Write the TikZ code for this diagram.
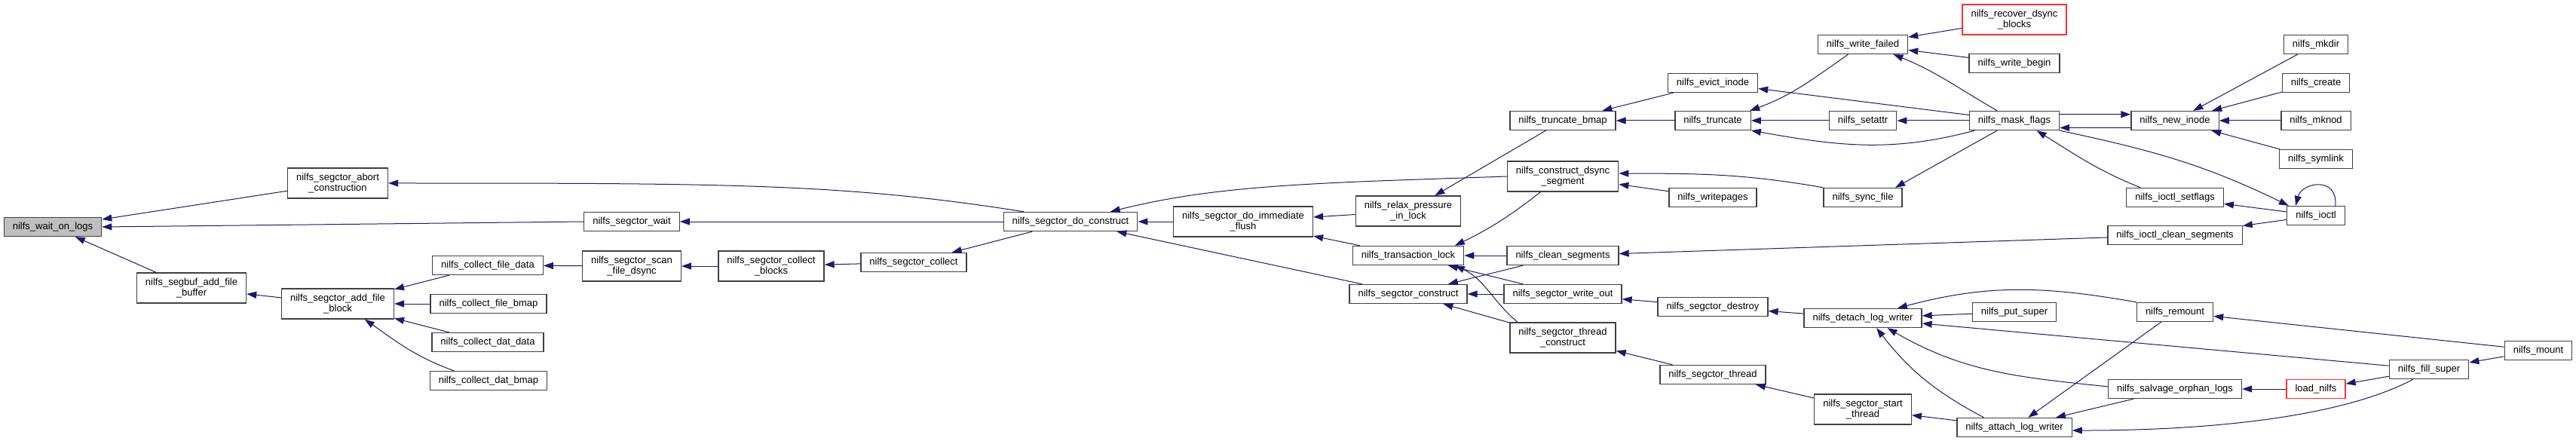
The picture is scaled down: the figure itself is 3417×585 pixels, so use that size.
\documentclass[tikz,border=0pt]{standalone}
\usepackage{fontspec}
\setmainfont{Liberation Sans}
\usetikzlibrary{arrows.meta}
\definecolor{cgEdge}{HTML}{191970}
\definecolor{cgLine}{HTML}{404040}
\definecolor{cgRoot}{HTML}{BFBFBF}
\definecolor{cgExt}{HTML}{FF3030}
\tikzset{
  fnnode/.style={
    draw=cgLine, line width=1.3pt, fill=white, align=center,
    font=\fontsize{13}{14}\selectfont, inner xsep=11.5pt, inner ysep=0pt,
    minimum height=25pt
  },
  fnroot/.style={fnnode, fill=cgRoot},
  fnext/.style={fnnode, draw=cgExt},
  twoline/.style={minimum height=40pt},
  call/.style={{Triangle[length=13pt, width=9pt]}-, cgEdge, line width=1pt}
}

\begin{document}
\begin{tikzpicture}[x=1pt, y=1pt]
  \useasboundingbox (0,0) rectangle (3417,-585);
  \node[fnroot] (wait) at (70,-301) {nilfs\_wait\_on\_logs};
  \node[fnnode, twoline] (abort) at (448,-243) {nilfs\_segctor\_abort\\\_construction};
  \node[fnnode, twoline] (segbuf) at (254,-382) {nilfs\_segbuf\_add\_file\\\_buffer};
  \node[fnnode, twoline] (addblock) at (448,-403) {nilfs\_segctor\_add\_file\\\_block};
  \node[fnnode] (cfiledata) at (647,-352) {nilfs\_collect\_file\_data};
  \node[fnnode] (cfilebmap) at (648,-403) {nilfs\_collect\_file\_bmap};
  \node[fnnode] (cdatdata) at (647,-454) {nilfs\_collect\_dat\_data};
  \node[fnnode] (cdatbmap) at (648,-505) {nilfs\_collect\_dat\_bmap};
  \node[fnnode] (scwait) at (838,-294) {nilfs\_segctor\_wait};
  \node[fnnode, twoline] (scandsync) at (838,-353) {nilfs\_segctor\_scan\\\_file\_dsync};
  \node[fnnode, twoline] (collblocks) at (1023,-353) {nilfs\_segctor\_collect\\\_blocks};
  \node[fnnode] (sccollect) at (1212,-348) {nilfs\_segctor\_collect};
  \node[fnnode] (doconstruct) at (1420,-294) {nilfs\_segctor\_do\_construct};
  \node[fnnode, twoline] (immflush) at (1649,-294) {nilfs\_segctor\_do\_immediate\\\_flush};
  \node[fnnode, twoline] (relax) at (1868,-280) {nilfs\_relax\_pressure\\\_in\_lock};
  \node[fnnode] (translock) at (1868,-339) {nilfs\_transaction\_lock};
  \node[fnnode] (scconstruct) at (1868,-390) {nilfs\_segctor\_construct};
  \node[fnnode] (truncbmap) at (2073,-160) {nilfs\_truncate\_bmap};
  \node[fnnode, twoline] (dsyncseg) at (2073,-234) {nilfs\_construct\_dsync\\\_segment};
  \node[fnnode] (cleanseg) at (2073,-339) {nilfs\_clean\_segments};
  \node[fnnode] (writeout) at (2073,-390) {nilfs\_segctor\_write\_out};
  \node[fnnode, twoline] (threadcons) at (2073,-448) {nilfs\_segctor\_thread\\\_construct};
  \node[fnnode] (evict) at (2272,-110) {nilfs\_evict\_inode};
  \node[fnnode] (truncate) at (2272,-160) {nilfs\_truncate};
  \node[fnnode] (writepages) at (2272,-262) {nilfs\_writepages};
  \node[fnnode] (destroy) at (2272,-407) {nilfs\_segctor\_destroy};
  \node[fnnode] (scthread) at (2272,-497) {nilfs\_segctor\_thread};
  \node[fnnode] (writefailed) at (2471,-59) {nilfs\_write\_failed};
  \node[fnnode] (setattr) at (2471,-160) {nilfs\_setattr};
  \node[fnnode] (syncfile) at (2471,-262) {nilfs\_sync\_file};
  \node[fnnode] (detach) at (2471,-422) {nilfs\_detach\_log\_writer};
  \node[fnnode, twoline] (startthread) at (2471,-543) {nilfs\_segctor\_start\\\_thread};
  \node[fnext, twoline] (recover) at (2672,-26) {nilfs\_recover\_dsync\\\_blocks};
  \node[fnnode] (writebegin) at (2672,-84) {nilfs\_write\_begin};
  \node[fnnode] (maskflags) at (2672,-160) {nilfs\_mask\_flags};
  \node[fnnode] (putsuper) at (2672,-414) {nilfs\_put\_super};
  \node[fnnode] (attach) at (2672,-567) {nilfs\_attach\_log\_writer};
  \node[fnnode] (newinode) at (2885,-160) {nilfs\_new\_inode};
  \node[fnnode] (setflags) at (2885,-262) {nilfs\_ioctl\_setflags};
  \node[fnnode] (icleanseg) at (2885,-312) {nilfs\_ioctl\_clean\_segments};
  \node[fnnode] (remount) at (2885,-414) {nilfs\_remount};
  \node[fnnode] (salvage) at (2885,-516) {nilfs\_salvage\_orphan\_logs};
  \node[fnnode] (mkdir) at (3072,-59) {nilfs\_mkdir};
  \node[fnnode] (create) at (3072,-110) {nilfs\_create};
  \node[fnnode] (mknod) at (3072,-160) {nilfs\_mknod};
  \node[fnnode] (symlink) at (3072,-211) {nilfs\_symlink};
  \node[fnnode] (ioctl) at (3072,-286) {nilfs\_ioctl};
  \node[fnext] (loadnilfs) at (3072,-516) {load\_nilfs};
  \node[fnnode] (fillsuper) at (3222,-490) {nilfs\_fill\_super};
  \node[fnnode] (mount) at (3367,-465) {nilfs\_mount};

  \draw[call] (wait) -- (abort);
  \draw[call] (wait.east) -- (scwait.west);
  \draw[call] (wait) -- (segbuf);
  \draw[call] (segbuf) -- (addblock);
  \draw[call] (addblock) -- (cfiledata);
  \draw[call] (addblock) -- (cfilebmap);
  \draw[call] (addblock) -- (cdatdata);
  \draw[call] (addblock.-30) to[out=-35, in=160] (cdatbmap.164);
  \draw[call] (cfiledata) -- (scandsync);
  \draw[call] (scandsync) -- (collblocks);
  \draw[call] (collblocks) -- (sccollect);
  \draw[call] (abort.east) .. controls +(0:450) and +(171:240) .. (doconstruct.168);
  \draw[call] (scwait) -- (doconstruct);
  \draw[call] (sccollect) -- (doconstruct);
  \draw[call] (doconstruct) -- (immflush);
  \draw[call] (doconstruct.14) .. controls +(14:150) and +(182:250) .. (dsyncseg.west);
  \draw[call] (doconstruct) -- (scconstruct);
  \draw[call] (immflush) -- (relax);
  \draw[call] (immflush) -- (translock);
  \draw[call] (relax) -- (truncbmap);
  \draw[call] (truncbmap) -- (evict);
  \draw[call] (truncbmap) -- (truncate);
  \draw[call] (translock.12) to[bend right=6] (dsyncseg.215);
  \draw[call] (translock) -- (cleanseg);
  \draw[call] (translock) -- (writeout);
  \draw[call] (translock.-12) to[out=-25, in=140] (threadcons.161);
  \draw[call] (scconstruct) -- (cleanseg);
  \draw[call] (scconstruct) -- (writeout);
  \draw[call] (scconstruct) -- (threadcons);
  \draw[call] (dsyncseg) -- (writepages);
  \draw[call] (dsyncseg.3) to[out=0, in=170] (syncfile.north west);
  \draw[call] (cleanseg) -- (icleanseg);
  \draw[call] (writeout) -- (destroy);
  \draw[call] (threadcons) -- (scthread);
  \draw[call] (evict) -- (maskflags);
  \draw[call] (truncate.15) to[out=20, in=215] (writefailed.214);
  \draw[call] (truncate) -- (setattr);
  \draw[call] (truncate.south east) to[out=-10, in=195] (maskflags.194);
  \draw[call] (setattr) -- (maskflags);
  \draw[call] (syncfile.17) -- (maskflags.210);
  \draw[call] (writefailed) -- (recover);
  \draw[call] (writefailed) -- (writebegin);
  \draw[call] (writefailed.-18) to[out=-22, in=150] (maskflags.150);
  \draw[call] (newinode.172) -- (maskflags.8);
  \draw[call] (maskflags.-9) -- (newinode.189);
  \draw[call] (maskflags.-24) to[out=-32, in=158] (setflags.164);
  \draw[call] (ioctl.160) to[out=154, in=-12] (maskflags.south east);
  \draw[call] (newinode) -- (mkdir);
  \draw[call] (newinode) -- (create);
  \draw[call] (newinode) -- (mknod);
  \draw[call] (newinode) -- (symlink);
  \draw[call] (setflags) -- (ioctl);
  \draw[call] (icleanseg) -- (ioctl);
  \draw[call] (ioctl.154) .. controls +(75:32) and +(85:40) .. (ioctl.27);
  \draw[call] (destroy) -- (detach);
  \draw[call] (scthread) -- (startthread);
  \draw[call] (detach.16) to[out=15, in=170] (remount.north west);
  \draw[call] (detach) -- (putsuper);
  \draw[call] (detach) -- (fillsuper);
  \draw[call] (detach.-22) to[out=-30, in=174] (salvage.178);
  \draw[call] (detach.-36) to[out=-52, in=152] (attach.162);
  \draw[call] (startthread) -- (attach);
  \draw[call] (attach) -- (remount);
  \draw[call] (attach) -- (salvage);
  \draw[call] (attach.-3) .. controls +(0:200) and +(208:100) .. (fillsuper.212);
  \draw[call] (salvage) -- (loadnilfs);
  \draw[call] (loadnilfs) -- (fillsuper);
  \draw[call] (fillsuper) -- (mount);
  \draw[call] (remount) -- (mount);
\end{tikzpicture}
\end{document}
